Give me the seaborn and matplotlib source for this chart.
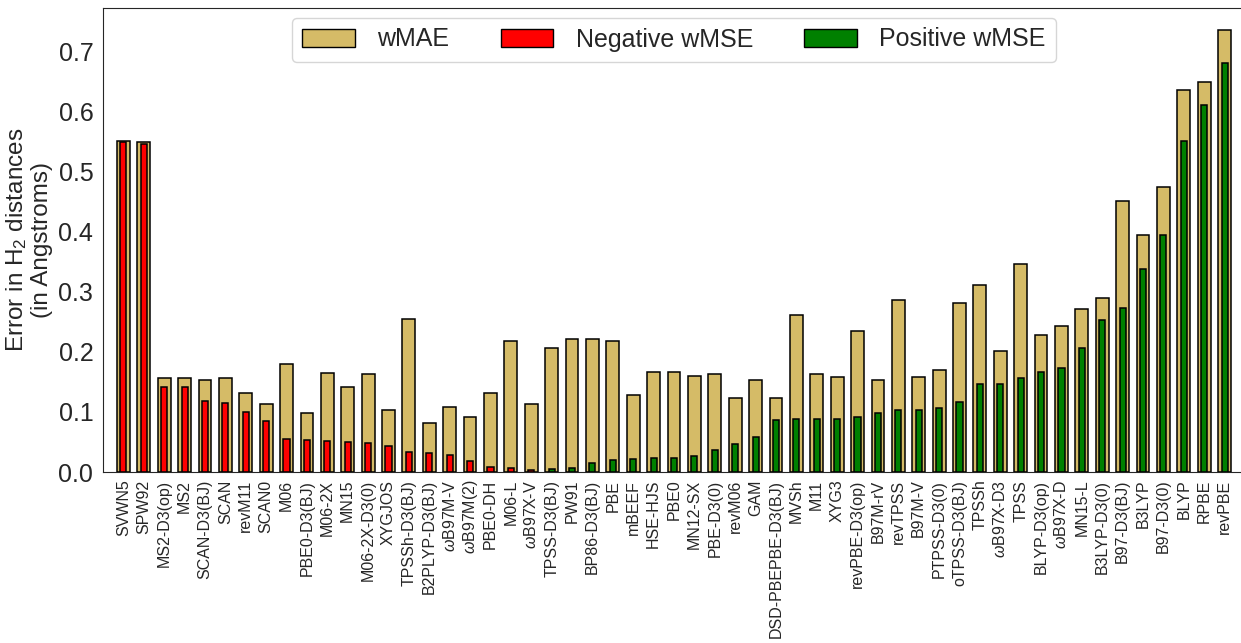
import numpy as np
import pandas as pd
import matplotlib
matplotlib.use("Agg")
import matplotlib.pyplot as plt
from matplotlib.patches import Patch
import seaborn as sns

functionals = ['SVWN5', 'SPW92', 'MS2-D3(op)', 'MS2', 'SCAN-D3(BJ)', 'SCAN', 'revM11', 'SCAN0',
               'M06', 'PBE0-D3(BJ)', 'M06-2X', 'MN15', 'M06-2X-D3(0)', 'XYGJOS', 'TPSSh-D3(BJ)',
               'B2PLYP-D3(BJ)', r'$\omega$B97M-V', r'$\omega$B97M(2)', 'PBE0-DH', 'M06-L',
               r'$\omega$B97X-V', 'TPSS-D3(BJ)', 'PW91', 'BP86-D3(BJ)', 'PBE', 'mBEEF', 'HSE-HJS',
               'PBE0', 'MN12-SX', 'PBE-D3(0)', 'revM06', 'GAM', 'DSD-PBEPBE-D3(BJ)', 'MVSh', 'M11',
               'XYG3', 'revPBE-D3(op)', 'B97M-rV', 'revTPSS', 'B97M-V', 'PTPSS-D3(0)',
               'oTPSS-D3(BJ)', 'TPSSh', r'$\omega$B97X-D3', 'TPSS', 'BLYP-D3(op)', r'$\omega$B97X-D',
               'MN15-L', 'B3LYP-D3(0)', 'B97-D3(BJ)', 'B3LYP', 'B97-D3(0)', 'BLYP', 'RPBE', 'revPBE']

wmae = [0.552, 0.550, 0.156, 0.157, 0.154, 0.156, 0.131, 0.113, 0.180, 0.098, 0.165, 0.142, 0.163, 0.103,
        0.255, 0.082, 0.108, 0.091, 0.132, 0.218, 0.113, 0.206, 0.221, 0.222, 0.218, 0.129, 0.166, 0.167,
        0.160, 0.163, 0.123, 0.154, 0.124, 0.262, 0.163, 0.159, 0.235, 0.154, 0.287, 0.158, 0.170, 0.282,
        0.311, 0.202, 0.347, 0.228, 0.243, 0.271, 0.290, 0.452, 0.395, 0.475, 0.637, 0.650, 0.737]

wmse = [-0.549, -0.547, -0.142, -0.141, -0.119, -0.115, -0.0995, -0.0855, -0.055, -0.054, -0.052,
        -0.050, -0.049, -0.043, -0.033, -0.031, -0.028, -0.018, -0.008, -0.007, -0.004,
        0.005, 0.007, 0.015, 0.020, 0.021, 0.023, 0.024, 0.027, 0.037, 0.047, 0.059, 0.087, 0.088,
        0.088, 0.088, 0.092, 0.098, 0.103, 0.103, 0.107, 0.116, 0.146, 0.147, 0.157, 0.167, 0.174,
        0.206, 0.253, 0.273, 0.339, 0.395, 0.552, 0.611, 0.682]

df = pd.DataFrame({'functional': functionals, 'wMAE': wmae, 'wMSE': wmse})
df['absMSE'] = df['wMSE'].abs()
df['sign'] = np.where(df['wMSE'] < 0, 'Negative wMSE', 'Positive wMSE')

sns.set_style("white")
plt.rcParams['font.family'] = ['Liberation Sans', 'DejaVu Sans']
plt.rcParams['mathtext.fontset'] = 'custom'
plt.rcParams['mathtext.rm'] = 'Liberation Sans'
plt.rcParams['mathtext.it'] = 'Liberation Sans:italic'

c_mae = '#d5bb67'
colors = {'Negative wMSE': 'red', 'Positive wMSE': 'green'}

fig = plt.figure(figsize=(12.41, 6.43), dpi=100)
ax = fig.add_axes([103 / 1241, 171 / 643, 1142 / 1241, 464.5 / 643])

sns.barplot(data=df, x='functional', y='wMAE', order=functionals, color=c_mae, saturation=1,
            width=0.63, edgecolor='black', linewidth=1.1, ax=ax)
sns.barplot(data=df, x='functional', y='absMSE', order=functionals, hue='sign', palette=colors,
            dodge=False, saturation=1, width=0.3, edgecolor='black', linewidth=1.1,
            legend=False, ax=ax)

ax.set_xlim(-1, 55)
ax.spines['right'].set_visible(False)
ax.set_xlabel('')
ax.set_ylabel('Error in H$_2$ distances\n(in Angstroms)', fontsize=17.5, linespacing=1.1)
ax.set_yticks(np.arange(0, 0.71, 0.1))
ax.tick_params(axis='y', labelsize=18)
ax.tick_params(axis='x', labelsize=11.5, rotation=90, pad=2)

handles = [Patch(facecolor=c_mae, edgecolor='black', label='wMAE'),
           Patch(facecolor='red', edgecolor='black', label='Negative wMSE'),
           Patch(facecolor='green', edgecolor='black', label='Positive wMSE')]
ax.legend(handles=handles, loc='upper center', ncol=3, fontsize=18, handlelength=2.1,
          handleheight=0.76, handletextpad=0.9, columnspacing=2.05, borderaxespad=0.4)

fig.savefig('out.png', dpi=100)
